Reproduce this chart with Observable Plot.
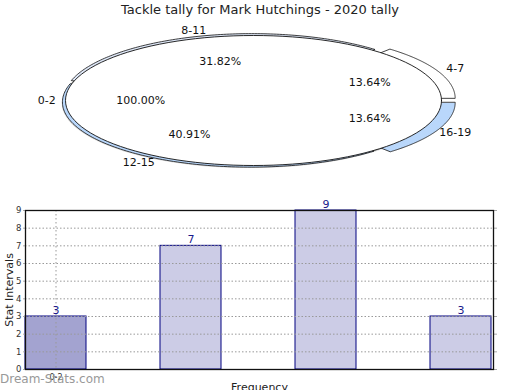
<!DOCTYPE html>
<html><head><meta charset="utf-8">
<script src="https://cdn.jsdelivr.net/npm/d3@7"></script>
<script src="https://cdn.jsdelivr.net/npm/@observablehq/plot@0.6"></script>
<style>
body{margin:0;width:520px;height:390px;overflow:hidden;background:#fff;font-family:"DejaVu Sans",sans-serif;position:relative}
#title{position:absolute;top:2px;left:0;width:520px;text-align:center;font-size:13px;color:#222}
#pie{position:absolute;top:20px;left:0}
#bars{position:absolute;top:200px;left:0}
#wm{position:absolute;left:0;top:372px;font-size:12px;color:#999;font-weight:500}
</style></head>
<body>
<div id="title">Tackle tally for Mark Hutchings - 2020 tally</div>
<div id="pie"></div>
<div id="bars"></div>
<div id="wm">Dream-Stats.com</div>
<script>
// ---- pie data ----
const pieLabels = ["0-2", "4-7", "8-11", "12-15", "16-19"];
const pieValues = [22, 3, 7, 9, 3];
const pieTotal = 22;
const pieColors = ["white", "white", "#dfe8f8", "#b9d7fb", "#b9d7fb"];
const pieExplode = [0, 0.08, 0.03, 0.03, 0.08];

// ---- bar data ----
const barCategories = ["4-7", "8-11", "12-15", "16-19"];
const barValues = [3, 7, 9, 3];
const barTickLabels = ["0-2"];
const barFills = ["#a3a3d0", "#cccce6", "#cccce6", "#cccce6"];
const yTicks = [0, 1, 2, 3, 4, 5, 6, 7, 8, 9];

// wedge geometry from values
const wedges = [];
let cum = 0;
pieValues.forEach((v, i) => {
  const frac = v / pieTotal;
  let a0, a1;
  if (i === 0) { a0 = 0; a1 = 2 * Math.PI * frac; }
  else { a0 = cum; a1 = cum + 2 * Math.PI * frac; cum = a1; }
  wedges.push({label: pieLabels[i], a0, a1, mid: (a0 + a1) / 2, ex: pieExplode[i], color: pieColors[i], pct: (frac * 100).toFixed(2) + "%", full: frac >= 1});
});
function wedgePts(w, dx = 0, dy = 0) {
  const ox = w.ex * Math.cos(w.mid) + dx, oy = w.ex * Math.sin(w.mid) + dy;
  const pts = [];
  if (!w.full) pts.push({x: ox, y: oy});
  const n = 120;
  for (let k = 0; k <= n; k++) {
    const a = w.a0 + (w.a1 - w.a0) * k / n;
    pts.push({x: ox + Math.cos(a), y: oy + Math.sin(a)});
  }
  return pts;
}
const main = wedges[0];
const others = wedges.slice(1);
const pieMarks = [
  Plot.line(wedgePts(main, -0.02, -0.04), {x: "x", y: "y", curve: "linear-closed", fill: "#000", fillOpacity: 0.15, stroke: "none"}),
  Plot.line(wedgePts(main, -0.01, -0.02), {x: "x", y: "y", curve: "linear-closed", fill: "#000", fillOpacity: 0.3, stroke: "none"}),
  ...others.map(w => Plot.line(wedgePts(w), {x: "x", y: "y", curve: "linear-closed", fill: w.color, stroke: "#111", strokeWidth: 0.8})),
  Plot.line(wedgePts(main), {x: "x", y: "y", curve: "linear-closed", fill: main.color, stroke: "#111", strokeWidth: 0.9}),
  Plot.text(wedges, {
    x: w => (1.1 + w.ex) * Math.cos(w.mid), y: w => (1.1 + w.ex) * Math.sin(w.mid),
    text: "label", textAnchor: w => Math.cos(w.mid) > 0 ? "start" : "end",
    fontSize: 11, fill: "#111"
  }),
  Plot.text(wedges, {
    x: w => (0.6 + w.ex) * Math.cos(w.mid), y: w => (0.6 + w.ex) * Math.sin(w.mid),
    text: "pct", textAnchor: "middle", fontSize: 11, fill: "#111"
  })
];
document.getElementById("pie").append(Plot.plot({
  width: 520, height: 180, margin: 0,
  style: {fontFamily: "DejaVu Sans", overflow: "visible"},
  x: {domain: [-1, 1], range: [65, 441], axis: null},
  y: {domain: [-1, 1], range: [145, 15], axis: null},
  marks: pieMarks
}));

// ---- bar chart ----
const bars = barCategories.map((c, i) => ({cat: c, value: barValues[i], fill: barFills[i]}));
document.getElementById("bars").append(Plot.plot({
  width: 520, height: 190,
  marginTop: 10, marginBottom: 21, marginLeft: 25, marginRight: 27,
  style: {fontFamily: "DejaVu Sans", overflow: "visible"},
  x: {type: "band", domain: barCategories, paddingInner: 0.55, paddingOuter: 0, align: 0},
  y: {domain: [0, 9]},
  marks: [
    Plot.barY(bars, {x: "cat", y: "value", fill: d => d.fill, stroke: "#000080", strokeWidth: 1}),
    Plot.ruleY(yTicks.slice(1), {stroke: "#999", strokeDasharray: "1.5,2", strokeWidth: 1}),
    Plot.gridX({ticks: [barCategories[0]], stroke: "#999", strokeOpacity: 1, strokeDasharray: "1.5,2.5"}),
    Plot.text(bars, {x: "cat", y: "value", text: d => String(d.value), dy: -6, fill: "#1a1a8c", fontSize: 11}),
    Plot.axisY({ticks: yTicks, tickSize: 2, tickPadding: 2, fontSize: 8.5, stroke: "#aaa", color: "#333", label: null}),
    Plot.axisY({anchor: "right", ticks: yTicks, tickSize: 3, tickFormat: () => "", stroke: "#aaa", label: null}),
    Plot.axisX({ticks: [barCategories[0]], tickSize: 0, tickPadding: 5, fontSize: 8, color: "#333", tickFormat: (d, i) => barTickLabels[i] ?? "", label: null}),
    Plot.frame({stroke: "#111", strokeWidth: 1.3}),
    Plot.text(["Stat Intervals"], {frameAnchor: "left", textAnchor: "middle", text: d => d, rotate: -90, dx: -16, fontSize: 11, fill: "#222"}),
    Plot.text(["Frequency"], {frameAnchor: "bottom", textAnchor: "middle", text: d => d, dy: 21, fontSize: 11, fill: "#222"})
  ]
}));
</script>
</body></html>
